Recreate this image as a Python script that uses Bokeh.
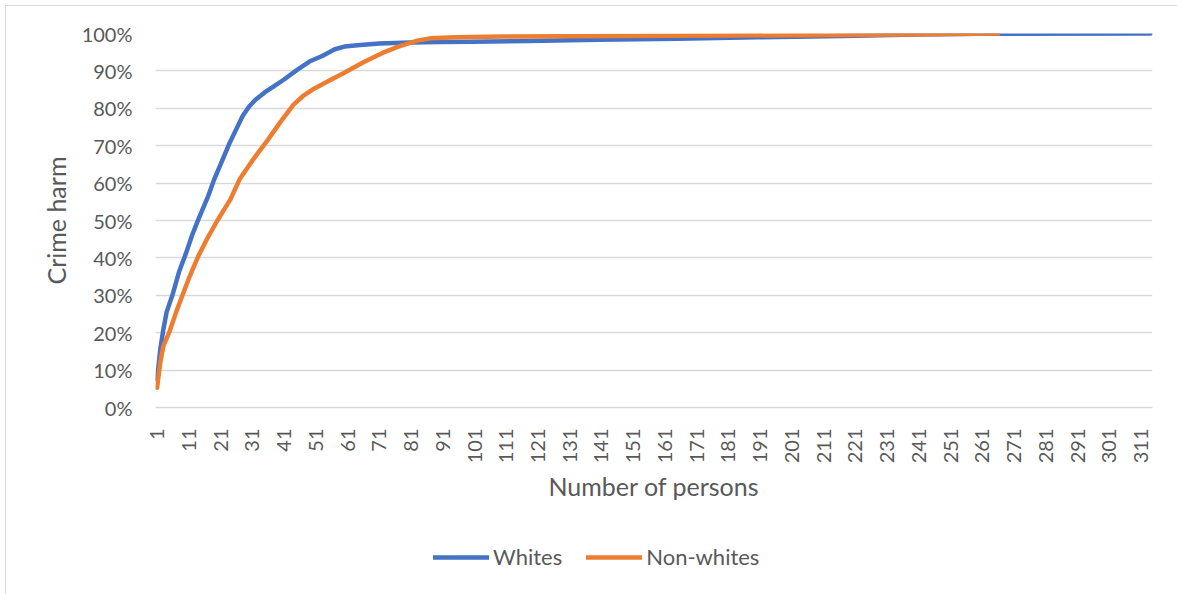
from bokeh.plotting import figure
from bokeh.layouts import column
from bokeh.models import FixedTicker, NumeralTickFormatter, Legend, LegendItem, Range1d
from bokeh.embed import file_html
from bokeh.resources import INLINE
from math import pi

# Cumulative share of crime harm by number of persons (ranked by harm)
whites_persons = [1, 2, 3, 4, 6, 8, 10, 12, 14, 17, 19, 22, 24, 26, 28, 30, 32, 35, 38, 41,
                  45, 49, 53, 57, 60, 65, 71, 81, 90, 100, 118, 140, 165, 190, 217, 240, 260, 314]
whites_harm = [0.075, 0.155, 0.21, 0.255, 0.305, 0.365, 0.41, 0.46, 0.503, 0.563, 0.61, 0.67,
               0.71, 0.745, 0.78, 0.805, 0.823, 0.843, 0.86, 0.877, 0.902, 0.925, 0.94, 0.958,
               0.965, 0.969, 0.973, 0.976, 0.977, 0.978, 0.980, 0.983, 0.986, 0.990, 0.993,
               0.997, 0.999, 1.0]

nonwhites_persons = [1, 2, 3, 5, 7, 9, 11, 14, 17, 20, 24, 27, 31, 36, 40, 44, 47, 50, 55, 60,
                     66, 72, 77, 83, 87, 95, 110, 165, 220, 266]
nonwhites_harm = [0.053, 0.12, 0.165, 0.205, 0.255, 0.30, 0.345, 0.405, 0.455, 0.50, 0.555,
                  0.61, 0.66, 0.717, 0.765, 0.81, 0.833, 0.85, 0.873, 0.895, 0.923, 0.948,
                  0.965, 0.981, 0.987, 0.990, 0.992, 0.994, 0.996, 1.0]

series_names = ["Whites", "Non-whites"]
x_ticks = list(range(1, 312, 10))
y_ticks = [i / 10 for i in range(11)]

FONT = "Lato"
TEXT = "#595959"
GRID = "#d9d9d9"
BLUE = "#4472c4"
ORANGE = "#ed7d31"
LINE_W = 4.5

p = figure(
    width=1171, height=515,
    output_backend="svg", toolbar_location=None,
    x_range=Range1d(0.5, 314.6), y_range=Range1d(0, 1),
    min_border_left=149, min_border_right=25, min_border_top=27, min_border_bottom=114,
    outline_line_color=None,
)

p.line(whites_persons, whites_harm, line_color=BLUE, line_width=LINE_W,
       line_cap="round", line_join="round")
p.line(nonwhites_persons, nonwhites_harm, line_color=ORANGE, line_width=LINE_W,
       line_cap="round", line_join="round")

# x axis: category-style labels every 10 persons, rotated
xa = p.xaxis[0]
xa.ticker = FixedTicker(ticks=x_ticks)
xa.major_label_orientation = pi / 2
xa.major_tick_line_color = None
xa.minor_tick_line_color = None
xa.axis_line_color = GRID
xa.axis_line_width = 1.5
xa.major_label_text_font = FONT
xa.major_label_text_font_size = "20px"
xa.major_label_text_color = TEXT
xa.major_label_standoff = 15
xa.axis_label = "Number of persons"
xa.axis_label_text_font = FONT
xa.axis_label_text_font_size = "25px"
xa.axis_label_text_font_style = "normal"
xa.axis_label_text_color = TEXT
xa.axis_label_standoff = 5

ya = p.yaxis[0]
ya.ticker = FixedTicker(ticks=y_ticks)
ya.formatter = NumeralTickFormatter(format="0%")
ya.axis_line_color = None
ya.major_tick_line_color = None
ya.minor_tick_line_color = None
ya.major_label_text_font = FONT
ya.major_label_text_font_size = "20px"
ya.major_label_text_color = TEXT
ya.major_label_standoff = 17
ya.axis_label = "Crime harm"
ya.axis_label_text_font = FONT
ya.axis_label_text_font_size = "25px"
ya.axis_label_text_font_style = "normal"
ya.axis_label_text_color = TEXT
ya.axis_label_standoff = 8

p.xgrid.grid_line_color = None
p.ygrid.grid_line_color = GRID
p.ygrid.grid_line_width = 1.5

# legend strip under the chart; its frame lines up with the chart frame,
# and its sample lines sit outside the strip's visible range
leg = figure(
    width=1171, height=73,
    output_backend="svg", toolbar_location=None,
    x_range=Range1d(0.5, 314.6), y_range=Range1d(10, 11),
    min_border=0, outline_line_color=None,
)
leg.axis.visible = False
leg.grid.visible = False
sample_w = leg.line(whites_persons, whites_harm, line_color=BLUE, line_width=LINE_W, line_cap="round")
sample_n = leg.line(nonwhites_persons, nonwhites_harm, line_color=ORANGE, line_width=LINE_W, line_cap="round")

legend = Legend(
    items=[LegendItem(label=series_names[0], renderers=[sample_w]),
           LegendItem(label=series_names[1], renderers=[sample_n])],
    orientation="horizontal", location=(278, 24),
    border_line_color=None, background_fill_alpha=0,
    label_text_font=FONT, label_text_font_size="22px", label_text_color=TEXT,
    glyph_width=56, glyph_height=26, label_standoff=4, spacing=24,
    margin=0, padding=0,
)
leg.add_layout(legend, "center")

page = column(p, leg, spacing=0)
page.margin = (5, 0, 0, 5)
page.styles = {"border-left": "1px solid #d9d9d9", "border-top": "1px solid #d9d9d9"}

open("out.html", "w").write(file_html(page, INLINE))
